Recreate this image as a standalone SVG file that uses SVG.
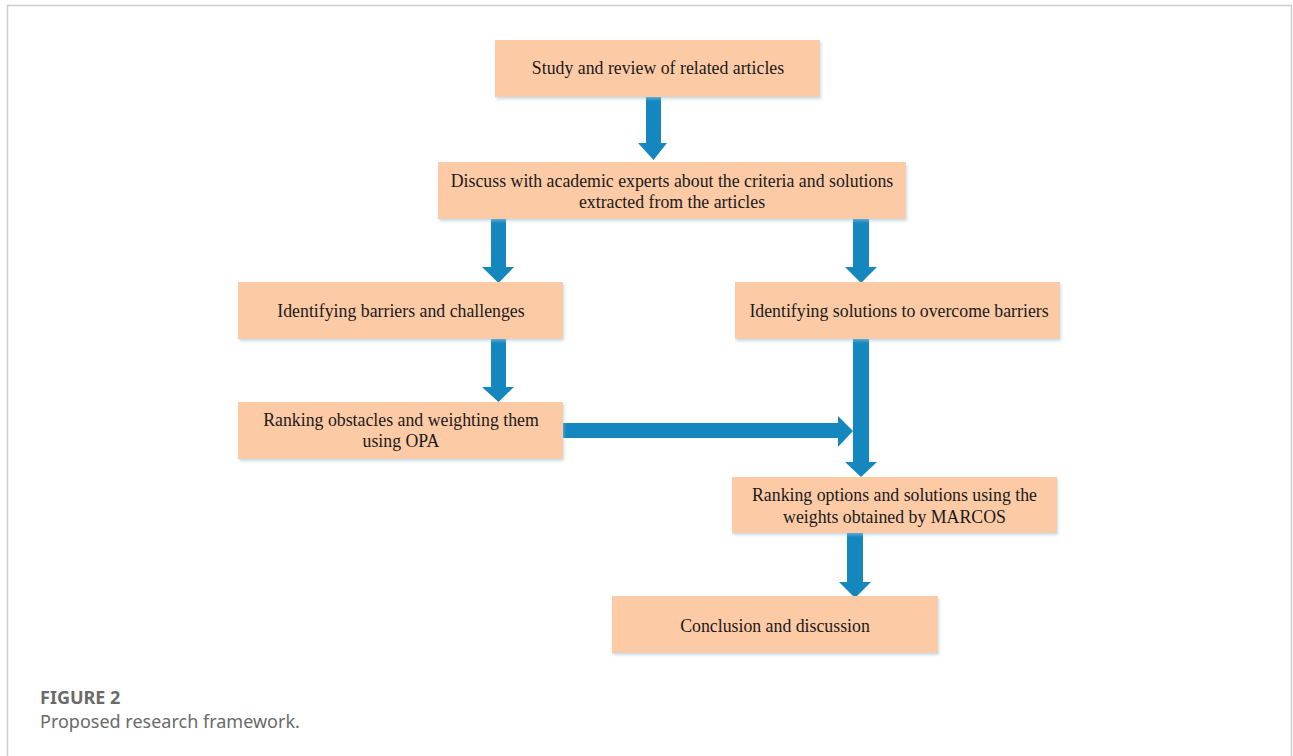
<svg xmlns="http://www.w3.org/2000/svg" width="1293" height="756" viewBox="0 0 1293 756">
<defs>
<filter id="sh" x="-5%" y="-10%" width="110%" height="130%">
<feGaussianBlur in="SourceAlpha" stdDeviation="1.5"/>
<feOffset dx="1" dy="2" result="b"/>
<feFlood flood-color="#9fc3e0" flood-opacity="0.6"/>
<feComposite in2="b" operator="in"/>
<feMerge><feMergeNode/><feMergeNode in="SourceGraphic"/></feMerge>
</filter>
</defs>
<style>
.box{fill:#fdcaa6;filter:url(#sh)}
.t{font-family:"Liberation Serif","Times New Roman",serif;font-size:17.8px;fill:#1a1a1a;text-anchor:middle}
.arr{fill:#1487bf}
.cap{font-family:"Noto Sans","Open Sans",sans-serif;fill:#6a6a6a}
</style>
<rect width="1293" height="756" fill="#ffffff"/>
<path d="M7.5,756 V5.5 H1291.5 V756" fill="none" stroke="#cccccc" stroke-width="1.5"/>
<g id="connectors">
<polygon class="arr" points="646,97 661,97 661,143 667,143 653.5,160 638,143 646,143"/>
<polygon class="arr" points="491,219 506,219 506,267 514,267 498.5,283 482,267 491,267"/>
<polygon class="arr" points="853,219 869,219 869,267 877,267 861,283 845,267 853,267"/>
<polygon class="arr" points="491,339 506,339 506,387 514,387 498.5,402 482,387 491,387"/>
<polygon class="arr" points="853,339 869,339 869,462 877,462 861,477 845,462 853,462"/>
<polygon class="arr" points="563,423 838,423 838,416 853,431 838,447 838,438 563,438"/>
<polygon class="arr" points="847,533 863,533 863,582 871,582 855,598 839,582 847,582"/>
</g>
<g id="n1"><rect class="box" x="495" y="40" width="325" height="57"/><text class="t" x="658" y="74">Study and review of related articles</text></g>
<g id="n2"><rect class="box" x="438" y="162" width="468" height="57"/><text class="t" x="672" y="187">Discuss with academic experts about the criteria and solutions</text><text class="t" x="672" y="208">extracted from the articles</text></g>
<g id="n3"><rect class="box" x="238" y="282" width="325" height="57"/><text class="t" x="401" y="317">Identifying barriers and challenges</text></g>
<g id="n4"><rect class="box" x="238" y="402" width="325" height="57"/><text class="t" x="401" y="426">Ranking obstacles and weighting them</text><text class="t" x="401" y="447">using OPA</text></g>
<g id="n5"><rect class="box" x="735" y="282" width="325" height="57"/><text class="t" x="899" y="317">Identifying solutions to overcome barriers</text></g>
<g id="n6"><rect class="box" x="732" y="477" width="325" height="56"/><text class="t" x="894.5" y="501">Ranking options and solutions using the</text><text class="t" x="894.5" y="523">weights obtained by MARCOS</text></g>
<g id="n7"><rect class="box" x="612" y="596" width="326" height="57"/><text class="t" x="775" y="632">Conclusion and discussion</text></g>
<text class="cap" x="40" y="704" font-size="18" font-weight="bold">FIGURE 2</text>
<text class="cap" x="40" y="728" font-size="18">Proposed research framework.</text>
</svg>
